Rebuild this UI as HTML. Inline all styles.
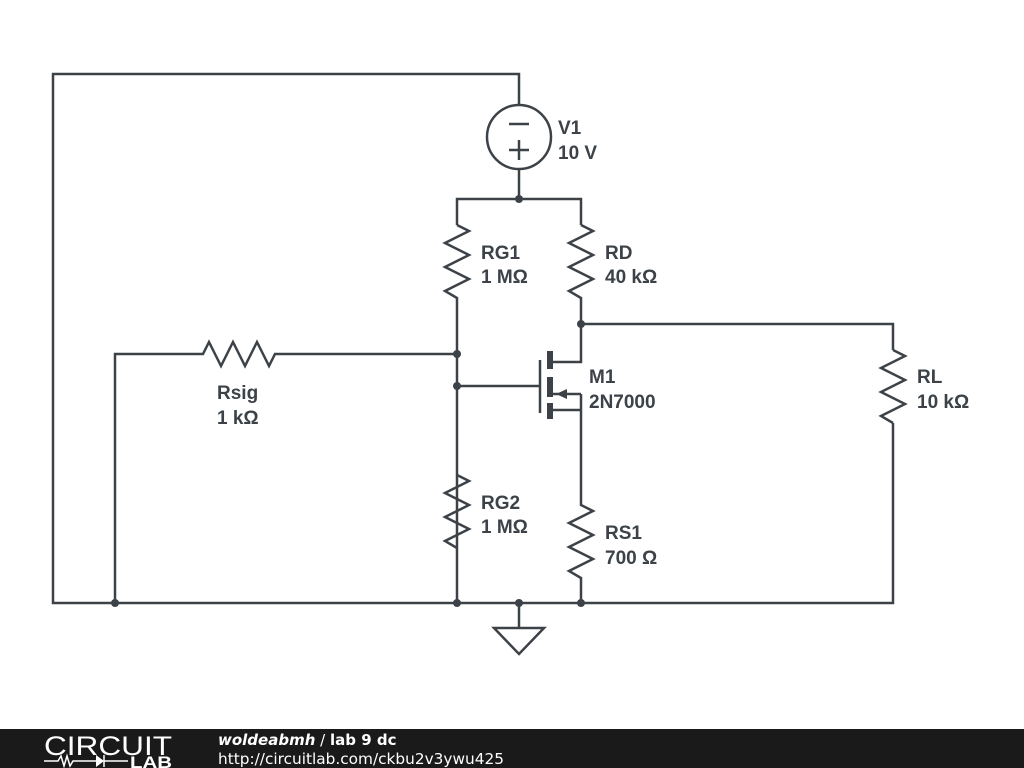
<!DOCTYPE html>
<html><head><style>
html,body{margin:0;padding:0;background:#fff;width:1024px;height:768px;overflow:hidden}
svg{display:block}
text{font-family:"Liberation Sans",sans-serif;font-weight:bold;font-size:19px;fill:#3c4247}
</style></head><body>
<svg width="1024" height="768" viewBox="0 0 1024 768">
<g stroke="#3c4247" stroke-width="2.5" fill="none" stroke-linejoin="miter">
<polyline points="519,105 519,74 53,74 53,603 893,603 893,423"/>
<circle cx="519" cy="137" r="32"/>
<line x1="509" y1="124" x2="529" y2="124"/>
<line x1="509" y1="150" x2="529" y2="150"/><line x1="519" y1="140" x2="519" y2="160"/>
<line x1="519" y1="169" x2="519" y2="199"/>
<polyline points="457,225 457,199 581,199 581,225"/>
<polyline points="457,225 469,231 445,243 469,255 445,267 469,279 445,291 457,298 457,603"/>
<polyline points="581,225 593,231 569,243 593,255 569,267 593,279 569,291 581,298 581,324 893,324 893,350"/>
<polyline points="893,350 905,356 881,368 905,380 881,392 905,404 881,416 893,423"/>
<polyline points="457,475 469,481 445,493 469,505 445,517 469,529 445,541 457,548"/>
<polyline points="581,410 581,505 593,511 569,523 593,535 569,547 593,559 569,571 581,578 581,603"/>
<polyline points="115,603 115,354 203,354 209,342 221,366 233,342 245,366 257,342 269,366 275,354 457,354"/>
<line x1="457" y1="386" x2="540" y2="386"/>
<line x1="540" y1="360" x2="540" y2="413"/>
<polyline points="553,362 581,362 581,324"/>
<line x1="553" y1="394" x2="581" y2="394"/>
<line x1="553" y1="410" x2="581" y2="410"/>
<line x1="581" y1="394" x2="581" y2="410"/>
<line x1="519" y1="603" x2="519" y2="628"/>
<polygon points="494,628 544,628 519,654"/>
</g>
<g fill="#3c4247">
<rect x="547" y="351" width="6" height="18"/>
<rect x="547" y="377" width="6" height="20"/>
<rect x="547" y="403" width="6" height="16"/>
<polygon points="556,394 567,389 567,399"/>
<circle cx="519" cy="199" r="4"/><circle cx="457" cy="354" r="4"/><circle cx="457" cy="386" r="4"/>
<circle cx="581" cy="324" r="4"/><circle cx="115" cy="603" r="4"/><circle cx="457" cy="603" r="4"/>
<circle cx="519" cy="603" r="4"/><circle cx="581" cy="603" r="4"/>
</g>
<text x="558" y="134">V1</text><text x="558" y="159">10 V</text>
<text x="481" y="259">RG1</text><text x="481" y="283">1 MΩ</text>
<text x="605" y="259">RD</text><text x="605" y="283">40 kΩ</text>
<text x="589" y="383">M1</text><text x="589" y="408">2N7000</text>
<text x="917" y="383">RL</text><text x="917" y="408">10 kΩ</text>
<text x="217" y="399">Rsig</text><text x="217" y="424">1 kΩ</text>
<text x="481" y="509">RG2</text><text x="481" y="533">1 MΩ</text>
<text x="605" y="539">RS1</text><text x="605" y="564">700 Ω</text>
<rect x="0" y="729" width="1024" height="39" fill="#1a1a1a"/>
<text x="44" y="755" textLength="128" lengthAdjust="spacingAndGlyphs" style="font-weight:normal;font-size:27px;fill:#fff">CIRCUIT</text>
<g stroke="#fff" stroke-width="1.5" fill="none"><polyline points="44,761 58,761 61,756 64,766 67,756 70,766 73,761 96,761"/><line x1="104" y1="761" x2="128" y2="761"/><line x1="104" y1="755" x2="104" y2="767"/></g>
<polygon points="96,755 96,767 104,761" fill="#fff"/>
<text x="130" y="768" textLength="42" lengthAdjust="spacingAndGlyphs" style="font-size:17px;fill:#fff">LAB</text>
<text x="218" y="745" style="font-family:'DejaVu Sans',sans-serif;font-size:15px;fill:#fff"><tspan style="font-style:italic">woldeabmh</tspan><tspan style="font-weight:normal"> / </tspan>lab 9 dc</text>
<text x="218" y="764" textLength="286" lengthAdjust="spacingAndGlyphs" style="font-family:'DejaVu Sans',sans-serif;font-size:15px;fill:#fff;font-weight:normal">http://circuitlab.com/ckbu2v3ywu425</text>
</svg>
</body></html>
